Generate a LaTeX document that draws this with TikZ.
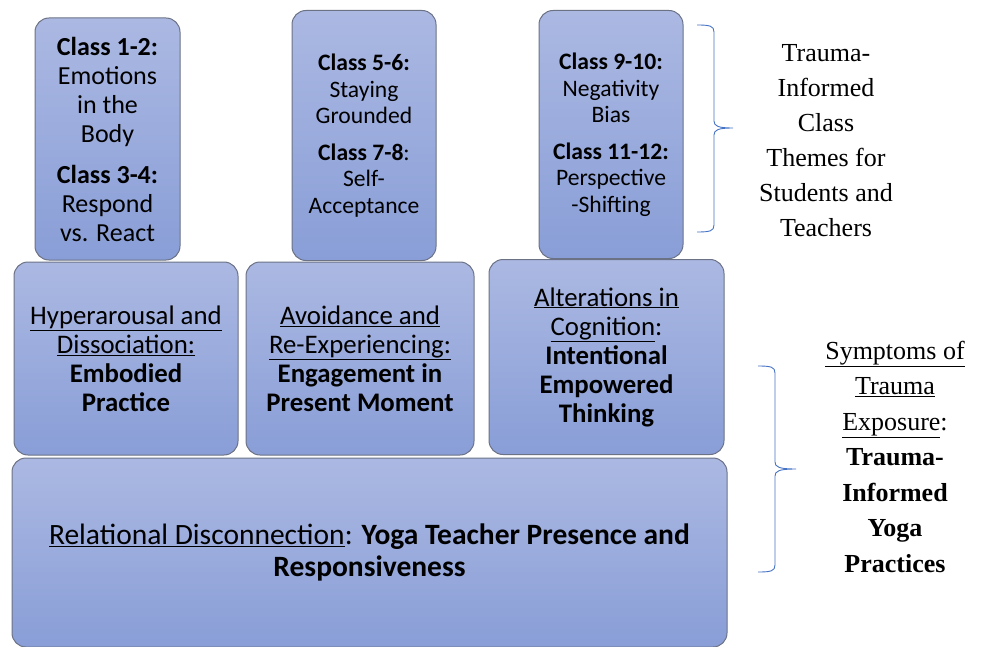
\documentclass[tikz,border=0pt]{standalone}
\usepackage{fontspec}
\setmainfont{Liberation Serif}
\newfontfamily\calibri{Carlito}
\definecolor{cajaarriba}{RGB}{171,184,226}
\definecolor{cajaabajo}{RGB}{137,158,215}
\definecolor{borde}{RGB}{108,114,134}
\definecolor{llaveazul}{RGB}{68,114,196}
\begin{document}
\begin{tikzpicture}[x=1pt, y=-1pt,
    caja/.style={draw=borde, line width=1pt, rounded corners=14pt,
        top color=cajaarriba, bottom color=cajaabajo,
        align=center, inner sep=0pt, font=\calibri},
    llave/.style={draw=llaveazul, line width=0.9pt},
    texto/.style={align=center, inner sep=0pt}]
    \useasboundingbox (0,0) rectangle (982,647);
    % Temas de clase (fila de arriba)
    \node[caja, minimum width=145pt, minimum height=242pt, font=\calibri\fontsize{26}{29}\selectfont] (c12) at (107.5,139)
        {\textbf{Class 1-2:}\\Emotions\\in the\\Body\\[12pt]\textbf{Class 3-4:}\\Respond\\vs. React};
    \node[caja, minimum width=144pt, minimum height=250pt, font=\calibri\fontsize{23.6}{26.5}\selectfont] (c56) at (364,135.5)
        {\textbf{Class 5-6:}\\Staying\\Grounded\\[10pt]\textbf{Class 7-8}:\\Self-\\Acceptance};
    \node[caja, minimum width=144pt, minimum height=248pt, font=\calibri\fontsize{23.6}{26.5}\selectfont] (c910) at (611,134.5)
        {\textbf{Class 9-10:}\\Negativity\\Bias\\[10pt]\textbf{Class 11-12:}\\Perspective\\-Shifting};
    % Sintomas (fila del medio)
    \node[caja, minimum width=224pt, minimum height=193pt, font=\calibri\fontsize{26.8}{29}\selectfont] (hiper) at (126,358.5)
        {\underline{Hyperarousal and}\\\underline{Dissociation:}\\\textbf{Embodied}\\\textbf{Practice}};
    \node[caja, minimum width=228pt, minimum height=193pt, font=\calibri\fontsize{26.8}{29}\selectfont] (evita) at (360,358.5)
        {\underline{Avoidance and}\\\underline{Re-Experiencing:}\\\textbf{Engagement in}\\\textbf{Present Moment}};
    \node[caja, minimum width=235pt, minimum height=195pt, font=\calibri\fontsize{26.8}{29}\selectfont] (cogni) at (606.5,357)
        {\underline{Alterations in}\\\underline{Cognition}:\\\textbf{Intentional}\\\textbf{Empowered}\\\textbf{Thinking}};
    % Base
    \node[caja, minimum width=715pt, minimum height=189pt, font=\calibri\fontsize{29.5}{32}\selectfont] (relac) at (369.5,552.5)
        {\underline{Relational Disconnection}: \textbf{Yoga Teacher Presence and}\\\textbf{Responsiveness}};
    % Llaves
    \draw[llave] (697,25) .. controls (710,25) and (714,26) .. (714,32) -- (714,121)
        .. controls (714,126) and (718,128) .. (733,128)
        .. controls (718,128) and (714,130) .. (714,135) -- (714,225)
        .. controls (714,231) and (710,232) .. (697,232);
    \draw[llave] (758,366) .. controls (771,366) and (775,367) .. (775,373) -- (775,462)
        .. controls (775,467) and (779,469) .. (796,469)
        .. controls (779,469) and (775,471) .. (775,476) -- (775,565)
        .. controls (775,571) and (771,572) .. (758,572);
    % Rotulos
    \node[texto, font=\fontsize{26}{35}\selectfont] (temas) at (826,141)
        {Trauma-\\Informed\\Class\\Themes for\\Students and\\Teachers};
    \node[texto, font=\fontsize{26}{35.5}\selectfont] (sintomas) at (895,456.5)
        {\underline{Symptoms of}\\\underline{Trauma}\\\underline{Exposure}:\\\textbf{Trauma-}\\\textbf{Informed}\\\textbf{Yoga}\\\textbf{Practices}};
\end{tikzpicture}
\end{document}
